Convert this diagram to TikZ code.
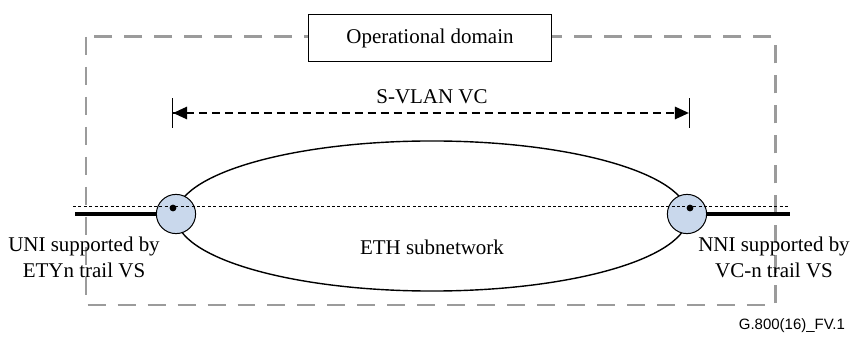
\documentclass[tikz,border=0pt]{standalone}
\usepackage{fontspec}
\setmainfont{Liberation Serif}
\newfontfamily\labelfont{Liberation Sans}
\usetikzlibrary{arrows.meta,shapes.geometric}
\definecolor{portblue}{RGB}{201,216,236}
\definecolor{domaingray}{RGB}{155,155,155}
\tikzset{
  port/.style={circle,draw,line width=0.5pt,fill=portblue,minimum size=0.69cm,inner sep=0pt},
  portdot/.style={circle,fill=black,minimum size=0.12cm,inner sep=0pt},
  opframe/.style={draw=domaingray,line width=1.5pt,dash pattern=on 9pt off 6pt},
  trail/.style={line width=2pt},
  annot/.style={align=center,font=\fontsize{10.5}{13}\selectfont}
}
\begin{document}
\begin{tikzpicture}[x=0.0176cm,y=-0.0176cm]
  % Frame
  \useasboundingbox[fill=white] (0,0) rectangle (855,340);

  % Operational domain
  \draw[opframe] (86,37) rectangle (775,305);
  \node[draw,fill=white,line width=0.5pt,minimum width=4.28cm,minimum height=0.82cm,annot] (opdom) at (430,38) {Operational domain};

  % ETH subnetwork
  \node[ellipse,draw,line width=0.7pt,minimum width=9.01cm,minimum height=2.64cm] (subnet) at (432,216) {};
  \node[annot] (ethlabel) at (432,247) {ETH subnetwork};

  % Ports
  \node[port] (uni) at (176,214) {};
  \node[port] (nni) at (687,214) {};
  \node[portdot] (unidot) at (173,208) {};
  \node[portdot] (nnidot) at (690,208) {};

  % Trails
  \coordinate (trailwest) at (75,214);
  \coordinate (traileast) at (790,214);
  \draw[trail] (trailwest) -- (uni);
  \draw[trail] (nni) -- (traileast);

  % Server layer
  \coordinate (dotwest) at (73,207);
  \coordinate (doteast) at (790,207);
  \draw[line width=0.5pt,dash pattern=on 1.5pt off 1.2pt] (dotwest) -- (doteast);

  % S-VLAN VC
  \coordinate (vcwest) at (172,113);
  \coordinate (vceast) at (690,113);
  \draw[line width=0.6pt,dash pattern=on 4pt off 2.5pt,
        {Bar[width=15pt,line width=0.6pt]Triangle[length=7pt,width=6.5pt,line width=0pt]}-{Triangle[length=7pt,width=6.5pt,line width=0pt]Bar[width=15pt,line width=0.6pt]}]
        (vcwest) -- (vceast);
  \node[annot] (vclabel) at (432,97) {S-VLAN VC};

  % Interfaces
  \node[annot] (unilabel) at (84,257) {UNI supported by\\ETYn trail VS};
  \node[annot] (nnilabel) at (774,257) {NNI supported by\\VC-n trail VS};

  % Figure tag
  \node[anchor=east,font=\labelfont\fontsize{7.5}{9}\selectfont] (tag) at (852,326) {G.800(16)\_FV.1};
\end{tikzpicture}
\end{document}
